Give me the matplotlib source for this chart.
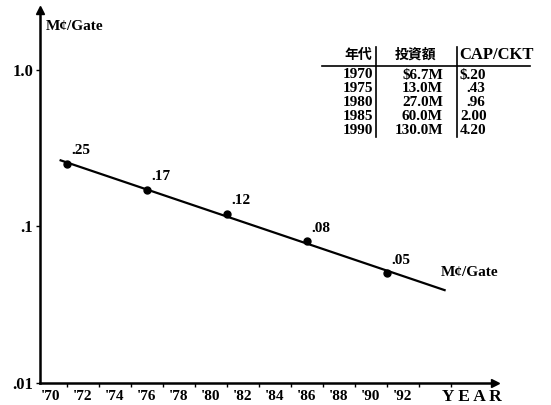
import numpy as np
import matplotlib.pyplot as plt
from matplotlib.ticker import FixedLocator, NullFormatter

plt.rcParams['font.family'] = ['Liberation Serif', 'Noto Sans CJK JP']
plt.rcParams['font.weight'] = 'bold'

# cost per gate, read at the marked years
years = np.array([1971, 1976, 1981, 1986, 1991])
cost = np.array([0.25, 0.17, 0.12, 0.08, 0.05])
cost_labels = ['.25', '.17', '.12', '.08', '.05']

# trend line span (years)
trend_start, trend_end = 1970.6, 1994.6

# x tick labels
tick_years = np.arange(1970, 1993, 2)
tick_labels = ["'%02d" % (y % 100) for y in tick_years]

# table in the upper right
tbl_years = ['1970', '1975', '1980', '1985', '1990']
tbl_invest = ['$6.7M', '13.0M', '27.0M', '60.0M', '130.0M']
tbl_cap = ['$.20', '.43', '.96', '2.00', '4.20']

W, H = 551, 405
fig = plt.figure(figsize=(W / 100, H / 100), dpi=100)

def fx(px):
    return px / W

def fy(py):
    return 1 - py / H

ax = fig.add_axes([fx(40), fy(383), fx(495) - fx(40), fy(10) - fy(383)])
ax.set_yscale('log')
ax.set_xlim(1969.31, 1997.75)
ax.set_ylim(0.01, 2.4)

for s in ['top', 'right']:
    ax.spines[s].set_visible(False)
for s in ['left', 'bottom']:
    ax.spines[s].set_linewidth(1.8)

# axis arrows
ax.plot(1, 0, '>k', ms=6, transform=ax.transAxes, clip_on=False)
ax.plot(0, 1, '^k', ms=6, transform=ax.transAxes, clip_on=False)

# fitted line through log cost
coef = np.polyfit(years, np.log10(cost), 1)
tx = np.array([trend_start, trend_end])
ax.plot(tx, 10 ** np.polyval(coef, tx), color='black', lw=1.6)
ax.plot(years, cost, 'o', color='black', ms=5)

for x, y, lab in zip(years, cost, cost_labels):
    ax.annotate(lab, (x, y), xytext=(3, 5), textcoords='offset points',
                fontsize=11, ha='left', va='bottom')

ax.annotate('M¢/Gate', (trend_end, 10 ** np.polyval(coef, trend_end)),
            xytext=(-3, 8), textcoords='offset points', fontsize=11,
            ha='left', va='bottom')

# y ticks
ax.yaxis.set_major_locator(FixedLocator([0.01, 0.1, 1.0]))
ax.yaxis.set_minor_locator(FixedLocator([]))
ax.set_yticklabels(['.01', '.1', '1.0'])
ax.tick_params(axis='y', which='major', direction='out', length=3, width=1,
               labelsize=12, pad=2)

# x ticks: labels at even years, marks at odd years
ax.xaxis.set_major_locator(FixedLocator(tick_years))
ax.set_xticklabels(tick_labels)
ax.xaxis.set_minor_locator(FixedLocator(np.arange(1971, 1997, 2)))
ax.xaxis.set_minor_formatter(NullFormatter())
ax.tick_params(axis='x', which='major', length=0, labelsize=11, pad=5)
ax.tick_params(axis='x', which='minor', direction='out', length=3, width=1)

fig.text(fx(46), fy(27), 'M¢/Gate', fontsize=11, va='center', ha='left')
fig.text(fx(442), fy(397), 'Y E A R', fontsize=12.5, va='center', ha='left')

# table
fs = 11
fig.text(fx(372), fy(55), '年代', fontsize=10, ha='right', va='center')
fig.text(fx(416), fy(55), '投資額', fontsize=10, ha='center', va='center')
fig.text(fx(459), fy(55), 'CAP/CKT', fontsize=12, ha='left', va='center')
fig.add_artist(plt.Line2D([fx(322), fx(530)], [fy(66), fy(66)], color='black', lw=1.2))
fig.add_artist(plt.Line2D([fx(376), fx(376)], [fy(47), fy(137)], color='black', lw=1.2))
fig.add_artist(plt.Line2D([fx(457), fx(457)], [fy(47), fy(137)], color='black', lw=1.2))
for i in range(len(tbl_years)):
    yy = fy(75 + 14 * i)
    fig.text(fx(373), yy, tbl_years[i], fontsize=fs, ha='right', va='center')
    fig.text(fx(443), yy, tbl_invest[i], fontsize=fs, ha='right', va='center')
    fig.text(fx(460) if i in (0, 3, 4) else fx(466), yy, tbl_cap[i],
             fontsize=fs, ha='left', va='center')

fig.savefig('out.png', dpi=100)
